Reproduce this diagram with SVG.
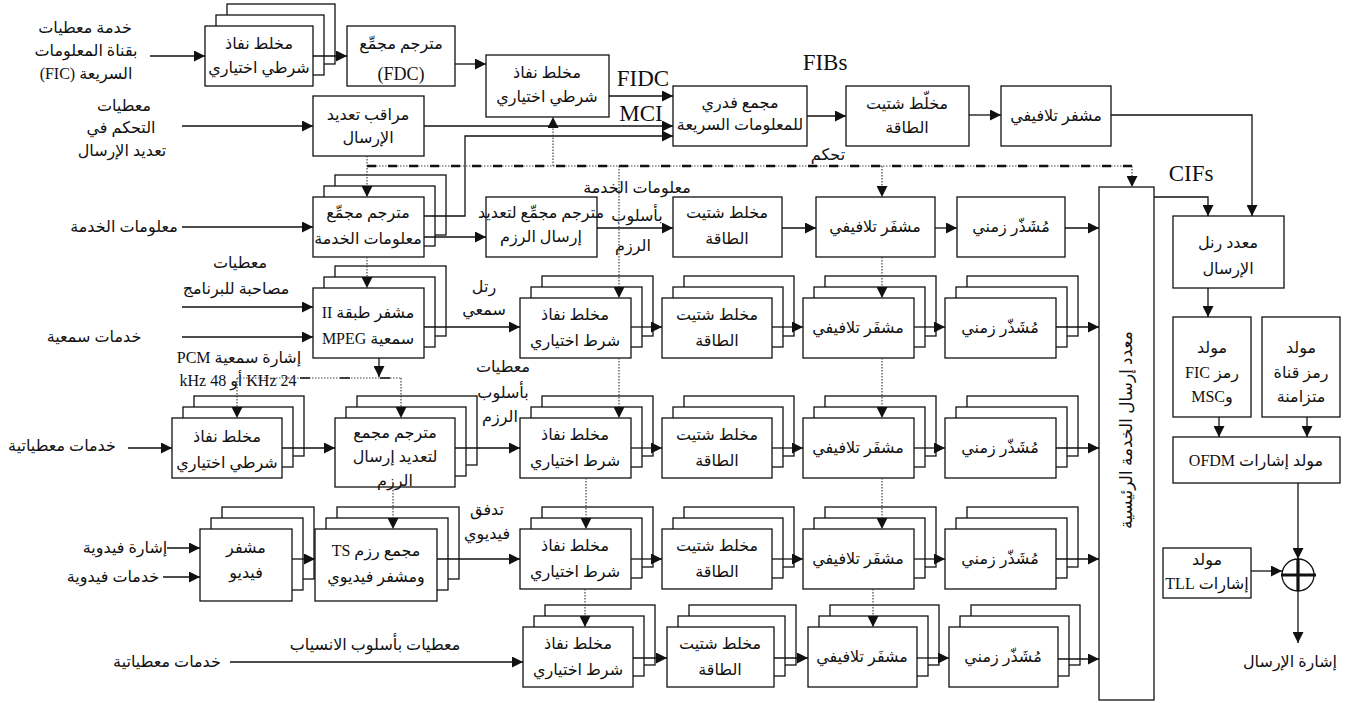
<svg xmlns="http://www.w3.org/2000/svg" width="1346" height="703" viewBox="0 0 1346 703">
<style>
.b{fill:#fff;stroke:#111;stroke-width:1.3}
.t{font-family:"Liberation Serif","DejaVu Sans",serif;font-size:16px;text-anchor:middle;direction:rtl;fill:#111}
.l{font-family:"Liberation Serif","DejaVu Sans",serif;font-size:23px;text-anchor:middle;fill:#111}
.c{fill:none;stroke:#111;stroke-width:1.3}
.d{fill:none;stroke:#444;stroke-width:1.2;stroke-dasharray:1.5 1.5}
.k{fill:none;stroke:#111;stroke-width:2.5;stroke-dasharray:9 12}
</style>
<defs>
<marker id="a" markerUnits="userSpaceOnUse" markerWidth="11" markerHeight="11" refX="11" refY="5.5" orient="auto"><path d="M0,0 L11,5.5 L0,11 z" fill="#111"/></marker>
</defs>

<!-- top row -->
<g id="ficMixer"><rect class="b" x="227" y="4" width="108" height="60"/><rect class="b" x="216" y="15" width="108" height="60"/><rect class="b" x="205" y="26" width="108" height="60"/><text class="t" x="259" y="49">مخلط نفاذ</text><text class="t" x="259" y="73">شرطي اختياري</text></g>
<g id="fdc"><rect class="b" x="347" y="26" width="108" height="60"/><text class="t" x="401" y="49">مترجم مجمِّع</text><text class="t" x="401" y="80" style="font-size:18px;direction:ltr">(FDC)</text></g>
<g id="topMixer"><rect class="b" x="486" y="55" width="123" height="62"/><text class="t" x="547" y="78">مخلط نفاذ</text><text class="t" x="547" y="102">شرطي اختياري</text></g>
<g id="muxCtrl"><rect class="b" x="313" y="96" width="111" height="60"/><text class="t" x="368" y="120">مراقب تعديد</text><text class="t" x="368" y="143">الإرسال</text></g>
<g id="fib"><rect class="b" x="673" y="86" width="134" height="60"/><text class="t" x="740" y="108">مجمع فدري</text><text class="t" x="740" y="130">للمعلومات السريعة</text></g>
<g id="topEnergy"><rect class="b" x="846" y="86" width="123" height="60"/><text class="t" x="907" y="109">مخلّط شتيت</text><text class="t" x="907" y="133">الطاقة</text></g>
<g id="topConv"><rect class="b" x="1001" y="86" width="110" height="60"/><text class="t" x="1056" y="121">مشفر تلافيفي</text></g>

<!-- row 2 -->
<g id="siTrans"><rect class="b" x="335" y="175" width="111" height="60"/><rect class="b" x="324" y="186" width="111" height="60"/><rect class="b" x="313" y="197" width="111" height="60"/><text class="t" x="368" y="218">مترجم مجمِّع</text><text class="t" x="368" y="244">معلومات الخدمة</text></g>
<g id="r2pkt"><rect class="b" x="486" y="197" width="111" height="60"/><text class="t" x="541" y="218">مترجم مجمِّع لتعديد</text><text class="t" x="541" y="242">إرسال الرزم</text></g>
<g id="r2energy"><rect class="b" x="673" y="197" width="109" height="60"/><text class="t" x="727" y="218">مخلط شتيت</text><text class="t" x="727" y="244">الطاقة</text></g>
<g id="r2conv"><rect class="b" x="816" y="197" width="119" height="60"/><text class="t" x="875" y="232">مشفَر تلافيفي</text></g>
<g id="r2int"><rect class="b" x="957" y="197" width="108" height="60"/><text class="t" x="1011" y="232">مُشَذّر زمني</text></g>

<!-- row 3 -->
<g id="mpeg"><rect class="b" x="335" y="266" width="111" height="70"/><rect class="b" x="324" y="277" width="111" height="70"/><rect class="b" x="313" y="288" width="111" height="70"/><text class="t" x="368" y="318">مشفر طبقة II</text><text class="t" x="368" y="344">سمعية MPEG</text></g>
<g id="r3mix"><rect class="b" x="542" y="276" width="111" height="60"/><rect class="b" x="531" y="287" width="111" height="60"/><rect class="b" x="520" y="298" width="111" height="60"/><text class="t" x="575" y="320">مخلط نفاذ</text><text class="t" x="575" y="346">شرط اختياري</text></g>
<g id="r3energy"><rect class="b" x="684" y="276" width="110" height="60"/><rect class="b" x="673" y="287" width="110" height="60"/><rect class="b" x="662" y="298" width="110" height="60"/><text class="t" x="717" y="320">مخلط شتيت</text><text class="t" x="717" y="346">الطاقة</text></g>
<g id="r3conv"><rect class="b" x="825" y="276" width="111" height="60"/><rect class="b" x="814" y="287" width="111" height="60"/><rect class="b" x="803" y="298" width="111" height="60"/><text class="t" x="858" y="333">مشفَر تلافيفي</text></g>
<g id="r3int"><rect class="b" x="967" y="276" width="111" height="60"/><rect class="b" x="956" y="287" width="111" height="60"/><rect class="b" x="945" y="298" width="111" height="60"/><text class="t" x="1000" y="333">مُشَذّر زمني</text></g>

<!-- row 4 -->
<g id="r4ca"><rect class="b" x="194" y="396" width="110" height="60"/><rect class="b" x="183" y="407" width="110" height="60"/><rect class="b" x="172" y="418" width="110" height="60"/><text class="t" x="227" y="442">مخلط نفاذ</text><text class="t" x="227" y="468">شرطي اختياري</text></g>
<g id="r4pkt"><rect class="b" x="357" y="396" width="120" height="69"/><rect class="b" x="346" y="407" width="120" height="69"/><rect class="b" x="335" y="418" width="120" height="69"/><text class="t" x="395" y="438">مترجم مجمع</text><text class="t" x="395" y="462">لتعديد إرسال</text><text class="t" x="395" y="486">الرزم</text></g>
<g id="r4mix"><rect class="b" x="542" y="396" width="111" height="60"/><rect class="b" x="531" y="407" width="111" height="60"/><rect class="b" x="520" y="418" width="111" height="60"/><text class="t" x="575" y="440">مخلط نفاذ</text><text class="t" x="575" y="466">شرط اختياري</text></g>
<g id="r4energy"><rect class="b" x="684" y="396" width="110" height="60"/><rect class="b" x="673" y="407" width="110" height="60"/><rect class="b" x="662" y="418" width="110" height="60"/><text class="t" x="717" y="440">مخلط شتيت</text><text class="t" x="717" y="466">الطاقة</text></g>
<g id="r4conv"><rect class="b" x="825" y="396" width="111" height="60"/><rect class="b" x="814" y="407" width="111" height="60"/><rect class="b" x="803" y="418" width="111" height="60"/><text class="t" x="858" y="453">مشفَر تلافيفي</text></g>
<g id="r4int"><rect class="b" x="967" y="396" width="111" height="60"/><rect class="b" x="956" y="407" width="111" height="60"/><rect class="b" x="945" y="418" width="111" height="60"/><text class="t" x="1000" y="453">مُشَذّر زمني</text></g>

<!-- row 5 -->
<g id="vidEnc"><rect class="b" x="222" y="507" width="92" height="72"/><rect class="b" x="211" y="518" width="92" height="72"/><rect class="b" x="200" y="529" width="92" height="72"/><text class="t" x="246" y="553">مشفر</text><text class="t" x="246" y="578">فيديو</text></g>
<g id="tsMux"><rect class="b" x="337" y="507" width="122" height="72"/><rect class="b" x="326" y="518" width="122" height="72"/><rect class="b" x="315" y="529" width="122" height="72"/><text class="t" x="376" y="556">مجمع رزم TS</text><text class="t" x="376" y="582">ومشفر فيديوي</text></g>
<g id="r5mix"><rect class="b" x="542" y="507" width="111" height="60"/><rect class="b" x="531" y="518" width="111" height="60"/><rect class="b" x="520" y="529" width="111" height="60"/><text class="t" x="575" y="551">مخلط نفاذ</text><text class="t" x="575" y="577">شرط اختياري</text></g>
<g id="r5energy"><rect class="b" x="684" y="507" width="110" height="60"/><rect class="b" x="673" y="518" width="110" height="60"/><rect class="b" x="662" y="529" width="110" height="60"/><text class="t" x="717" y="551">مخلط شتيت</text><text class="t" x="717" y="577">الطاقة</text></g>
<g id="r5conv"><rect class="b" x="825" y="507" width="111" height="60"/><rect class="b" x="814" y="518" width="111" height="60"/><rect class="b" x="803" y="529" width="111" height="60"/><text class="t" x="858" y="564">مشفَر تلافيفي</text></g>
<g id="r5int"><rect class="b" x="967" y="507" width="111" height="60"/><rect class="b" x="956" y="518" width="111" height="60"/><rect class="b" x="945" y="529" width="111" height="60"/><text class="t" x="1000" y="564">مُشَذّر زمني</text></g>

<!-- row 6 -->
<g id="r6mix"><rect class="b" x="545" y="605" width="110" height="60"/><rect class="b" x="534" y="616" width="110" height="60"/><rect class="b" x="523" y="627" width="110" height="60"/><text class="t" x="578" y="649">مخلط نفاذ</text><text class="t" x="578" y="675">شرط اختياري</text></g>
<g id="r6energy"><rect class="b" x="689" y="605" width="107" height="60"/><rect class="b" x="678" y="616" width="107" height="60"/><rect class="b" x="667" y="627" width="107" height="60"/><text class="t" x="720" y="649">مخلط شتيت</text><text class="t" x="720" y="675">الطاقة</text></g>
<g id="r6conv"><rect class="b" x="830" y="605" width="109" height="60"/><rect class="b" x="819" y="616" width="109" height="60"/><rect class="b" x="808" y="627" width="109" height="60"/><text class="t" x="862" y="662">مشفَر تلافيفي</text></g>
<g id="r6int"><rect class="b" x="971" y="605" width="109" height="60"/><rect class="b" x="960" y="616" width="109" height="60"/><rect class="b" x="949" y="627" width="109" height="60"/><text class="t" x="1003" y="662">مُشَذّر زمني</text></g>

<!-- right column -->
<g id="mainMux"><rect class="b" x="1099" y="187" width="55" height="513"/><text class="t" transform="translate(1132,430) rotate(-90)" style="font-size:17px">معدد إرسال الخدمة الرئيسية</text></g>
<g id="frameMux"><rect class="b" x="1173" y="216" width="111" height="72"/><text class="t" x="1228" y="248">معدد رنل</text><text class="t" x="1228" y="274">الإرسال</text></g>
<g id="ficGen"><rect class="b" x="1173" y="317" width="78" height="100"/><text class="t" x="1212" y="353">مولد</text><text class="t" x="1212" y="378">رمز FIC</text><text class="t" x="1212" y="402">وMSC</text></g>
<g id="syncGen"><rect class="b" x="1262" y="317" width="78" height="100"/><text class="t" x="1301" y="353">مولد</text><text class="t" x="1301" y="378">رمز قناة</text><text class="t" x="1301" y="402">متزامنة</text></g>
<g id="ofdm"><rect class="b" x="1173" y="437" width="167" height="46"/><text class="t" x="1256" y="466">مولد إشارات OFDM</text></g>
<g id="tll"><rect class="b" x="1163" y="548" width="88" height="50"/><text class="t" x="1207" y="565">مولد</text><text class="t" x="1207" y="589">إشارات TLL</text></g>
<g id="sum"><circle cx="1298" cy="575" r="16" fill="#fff" stroke="#111" stroke-width="1.3"/><path d="M1281,575 H1316 M1298,559 V591" stroke="#111" stroke-width="3.2"/></g>

<!-- free labels -->
<g id="labels">
<text class="t" x="85" y="33">خدمة معطيات</text>
<text class="t" x="86" y="56">بقناة المعلومات</text>
<text class="t" x="86" y="79">السريعة (FIC)</text>
<text class="t" x="124" y="111">معطيات</text>
<text class="t" x="121" y="133">التحكم في</text>
<text class="t" x="122" y="156">تعديد الإرسال</text>
<text class="t" x="124" y="232">معلومات الخدمة</text>
<text class="t" x="240" y="268">معطيات</text>
<text class="t" x="236" y="294">مصاحبة للبرنامج</text>
<text class="t" x="94" y="342">خدمات سمعية</text>
<text class="t" x="239" y="363">إشارة سمعية PCM</text>
<text class="t" x="238" y="386">24 KHz أو 48 kHz</text>
<text class="t" x="62" y="451">خدمات معطياتية</text>
<text class="t" x="125" y="553">إشارة فيدوية</text>
<text class="t" x="113" y="582">خدمات فيدوية</text>
<text class="t" x="167" y="667">خدمات معطياتية</text>
<text class="t" x="375" y="650">معطيات بأسلوب الانسياب</text>
<text class="l" x="643" y="86">FIDC</text>
<text class="l" x="641" y="121">MCI</text>
<text class="l" x="825" y="70">FIBs</text>
<text class="l" x="1191" y="181">CIFs</text>
<text class="t" x="828" y="160">تحكم</text>
<text class="t" x="637" y="193">معلومات الخدمة</text>
<text class="t" x="637" y="221">بأسلوب</text>
<text class="t" x="633" y="251">الرزم</text>
<text class="t" x="484" y="292">رتل</text>
<text class="t" x="484" y="315">سمعي</text>
<text class="t" x="503" y="372">معطيات</text>
<text class="t" x="503" y="398">بأسلوب</text>
<text class="t" x="500" y="422">الرزم</text>
<text class="t" x="487" y="515">تدفق</text>
<text class="t" x="487" y="539">فيديوي</text>
<text class="t" x="1290" y="667">إشارة الإرسال</text>
</g>

<!-- connectors -->
<g id="connectors">
<g class="c" marker-end="url(#a)">
<path d="M150,56 H205"/>
<path d="M313,56 H347"/>
<path d="M455,64 H486"/>
<path d="M609,96 H673"/>
<path d="M424,126 H673"/>
<path d="M424,216 H465 V136 H673"/>
<path d="M182,126 H313"/>
<path d="M807,116 H846"/>
<path d="M969,115 H1001"/>
<path d="M1111,115 H1252 V216"/>
<path d="M1154,197 H1208 V216"/>
<path d="M1208,288 V317"/>
<path d="M1219,417 V437"/>
<path d="M1307,417 V437"/>
<path d="M1298,483 V559"/>
<path d="M1251,571 H1282"/>
<path d="M1298,591 V643"/>
<path d="M182,227 H313"/>
<path d="M424,237 H486"/>
<path d="M597,228 H673"/>
<path d="M782,228 H816"/>
<path d="M935,228 H957"/>
<path d="M1065,228 H1099"/>
<path d="M182,307 H313"/>
<path d="M182,337 H313"/>
<path d="M424,327 H520"/>
<path d="M631,327 H662"/>
<path d="M772,327 H803"/>
<path d="M914,327 H945"/>
<path d="M1056,327 H1099"/>
<path d="M379,358 V377"/>
<path d="M128,448 H172"/>
<path d="M282,448 H335"/>
<path d="M455,448 H520"/>
<path d="M631,448 H662"/>
<path d="M772,448 H803"/>
<path d="M914,448 H945"/>
<path d="M1056,448 H1099"/>
<path d="M167,548 H200"/>
<path d="M163,577 H200"/>
<path d="M292,559 H315"/>
<path d="M437,559 H520"/>
<path d="M631,559 H662"/>
<path d="M772,559 H803"/>
<path d="M914,559 H945"/>
<path d="M1056,559 H1099"/>
<path d="M230,662 H523"/>
<path d="M633,658 H667"/>
<path d="M774,658 H808"/>
<path d="M917,658 H949"/>
<path d="M1058,659 H1099"/>
</g>
<path class="d" d="M367,166 H1132"/>
<path class="k" d="M367,166 H1132"/>
<path class="d" d="M237,378 H402"/>
<path class="k" d="M300,378 H402" style="stroke-width:1.5;stroke-dasharray:10 30"/>
<g class="d" marker-end="url(#a)">
<path d="M1132,166 V187"/>
<path d="M367,156 V197"/>
<path d="M553,166 V117"/>
<path d="M619,166 V298"/>
<path d="M882,166 V197"/>
<path d="M367,257 V288"/>
<path d="M237,378 V418"/>
<path d="M401,378 V418"/>
<path d="M619,358 V418"/>
<path d="M882,257 V298"/>
<path d="M882,358 V418"/>
<path d="M393,487 V529"/>
<path d="M586,478 V529"/>
<path d="M882,478 V529"/>
<path d="M585,589 V627"/>
<path d="M873,589 V627"/>
</g>
</g>
</svg>
